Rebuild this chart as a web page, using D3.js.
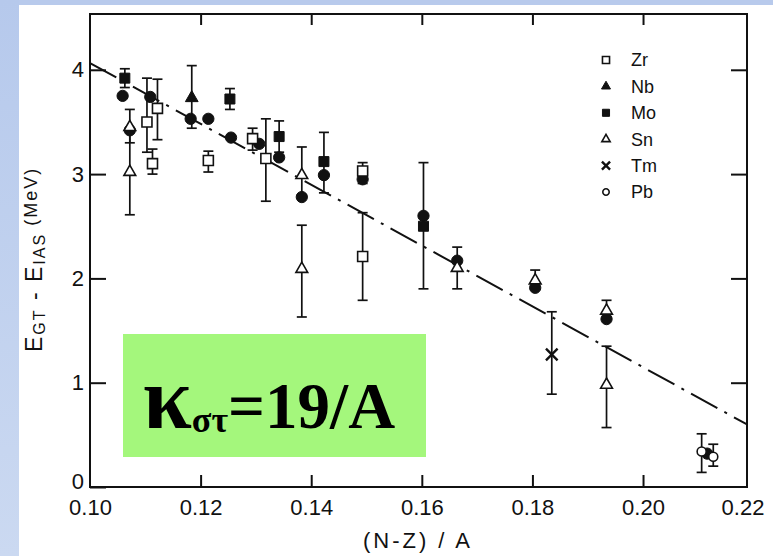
<!DOCTYPE html>
<html lang="en">
  <head>
    <meta charset="UTF-8" />
    <title>EGT - EIAS vs (N-Z)/A</title>
    <style>
      html, body { margin: 0; padding: 0; background: #fff; }
      svg { display: block; }
    </style>
  </head>
  <body>
    <svg id="chart"></svg>

    <script src="https://d3js.org/d3.v7.min.js"></script>
    <script>
      // values: [ (N-Z)/A, E, errLow, errHigh ]
      const zr = [
        [0.1103, 3.50, 3.21, 3.92],
        [0.1113, 3.10, 3.00, 3.24],
        [0.1122, 3.63, 3.33, 3.91],
        [0.1214, 3.13, 3.02, 3.22],
        [0.1294, 3.34, 3.23, 3.44],
        [0.1318, 3.15, 2.74, 3.53],
        [0.1493, 3.03, 2.91, 3.11],
        [0.1493, 2.21, 1.79, 2.63]
      ];
      const nb = [
        [0.1184, 3.73, 3.44, 4.04]
      ];
      const mo = [
        [0.1063, 3.92, 3.83, 4.01],
        [0.1253, 3.72, 3.62, 3.82],
        [0.1342, 3.36, 3.21, 3.51],
        [0.1423, 3.12, 2.82, 3.40],
        [0.1603, 2.50, 1.90, 3.11]
      ];
      const sn = [
        [0.1072, 3.45, 3.30, 3.62],
        [0.1072, 3.02, 2.61, 3.40],
        [0.1383, 2.99, 2.80, 3.26],
        [0.1383, 2.09, 1.63, 2.51],
        [0.1664, 2.10, 1.90, 2.30],
        [0.1805, 1.98, 1.90, 2.08],
        [0.1934, 1.69, 1.62, 1.79],
        [0.1934, 0.98, 0.57, 1.35]
      ];
      const tm = [
        [0.1835, 1.27, 0.89, 1.68]
      ];
      const pb = [
        [0.2106, 0.34, 0.14, 0.51],
        [0.2127, 0.29, 0.20, 0.41]
      ];
      // filled circles (no error bars, not in the legend)
      const calc = [
        [0.1059, 3.75], [0.1072, 3.42], [0.1109, 3.74], [0.1182, 3.53],
        [0.1214, 3.53], [0.1255, 3.35], [0.1306, 3.29], [0.1342, 3.16],
        [0.1383, 2.78], [0.1423, 2.99], [0.1493, 2.95], [0.1603, 2.60],
        [0.1664, 2.17], [0.1805, 1.91], [0.1934, 1.61], [0.2116, 0.32]
      ];
      // dash-dot line end points
      const fitX = [0.10, 0.2188];
      const fitY = [4.065, 0.60];

      const xTicks = [0.10, 0.12, 0.14, 0.16, 0.18, 0.20];
      const xLastLabel = "0.22";
      const yTicks = [0, 1, 2, 3, 4];
      const legendNames = ["Zr", "Nb", "Mo", "Sn", "Tm", "Pb"];
      const legendKinds = ["openSquare", "fillTriangle", "fillSquare", "openTriangle", "times", "openCircle"];

      const width = 773, height = 556;
      const plotLeft = 90, plotRight = 747, plotTop = 14, plotBottom = 487;
      const ink = "#111";

      const svg = d3.select("#chart").attr("width", width).attr("height", height);

      // slide background
      const defs = svg.append("defs");
      const grad = defs.append("linearGradient").attr("id", "strip")
        .attr("x1", 0).attr("y1", 0).attr("x2", 0).attr("y2", 1);
      grad.append("stop").attr("offset", "0%").attr("stop-color", "#b6c9ec");
      grad.append("stop").attr("offset", "100%").attr("stop-color", "#cbd9f1");

      svg.append("rect").attr("width", width).attr("height", height).attr("fill", "#fff");
      svg.append("rect").attr("width", width).attr("height", 5).attr("fill", "#b8caec");
      svg.append("rect").attr("width", 19).attr("height", height).attr("fill", "url(#strip)");

      const x = d3.scaleLinear().domain([0.10, 0.2188]).range([plotLeft, plotRight]);
      const y = d3.scaleLinear().domain([0, 4.535]).range([plotBottom, plotTop]);

      // axes (ticks point inward)
      const fontAxis = "'Liberation Sans', Arial, sans-serif";

      const gx = svg.append("g").attr("transform", `translate(0,${plotBottom})`)
        .call(d3.axisBottom(x).tickValues(xTicks).tickFormat(d3.format(".2f"))
          .tickSizeInner(-12).tickSizeOuter(0).tickPadding(12));
      svg.append("text")
        .attr("x", x.range()[1] - 4).attr("y", plotBottom + 12)
        .attr("dy", "0.71em").attr("text-anchor", "middle")
        .attr("font-family", fontAxis).attr("font-size", 22).attr("fill", ink)
        .text(xLastLabel);

      const gTop = svg.append("g").attr("transform", `translate(0,${plotTop})`)
        .call(d3.axisTop(x).tickValues(xTicks.slice(1)).tickFormat("")
          .tickSizeInner(-11).tickSizeOuter(0));

      const gy = svg.append("g").attr("transform", `translate(${plotLeft},0)`)
        .call(d3.axisLeft(y).tickValues(yTicks).tickFormat(d3.format("d"))
          .tickSizeInner(-16).tickSizeOuter(0).tickPadding(6));

      const gRight = svg.append("g").attr("transform", `translate(${plotRight},0)`)
        .call(d3.axisRight(y).tickValues(yTicks.slice(1)).tickFormat("")
          .tickSizeInner(-16).tickSizeOuter(0));

      [gx, gTop, gy, gRight].forEach(g => {
        g.select(".domain").remove();
        g.selectAll("line").attr("stroke", ink).attr("stroke-width", 2);
        g.selectAll("text").attr("font-family", fontAxis).attr("font-size", 22).attr("fill", ink);
      });
      gx.select(".tick line").remove(); // 0.10 sits on the frame
      // the "0" label sits a little above the corner in the original
      gy.selectAll(".tick text").filter(d => d === 0).attr("y", -6);

      svg.append("rect")
        .attr("x", plotLeft).attr("y", plotTop)
        .attr("width", plotRight - plotLeft).attr("height", plotBottom - plotTop)
        .attr("fill", "none").attr("stroke", ink).attr("stroke-width", 2);

      // axis titles
      svg.append("text")
        .attr("x", 418).attr("y", 548)
        .attr("text-anchor", "middle")
        .attr("font-family", fontAxis).attr("font-size", 22)
        .attr("letter-spacing", 3).attr("fill", ink)
        .text("(N-Z) / A");

      const yTitle = svg.append("text")
        .attr("transform", "translate(42,352) rotate(-90)")
        .attr("font-family", fontAxis).attr("fill", ink)
        .attr("letter-spacing", 2);
      yTitle.append("tspan").attr("font-size", 23).text("E");
      yTitle.append("tspan").attr("font-size", 16).attr("dy", 3).text("GT");
      yTitle.append("tspan").attr("font-size", 23).attr("dy", -3).text(" - E");
      yTitle.append("tspan").attr("font-size", 16).attr("dy", 3).text("IAS");
      yTitle.append("tspan").attr("font-size", 18).attr("dy", -8).text(" (MeV)");

      // dash-dot line
      svg.append("line")
        .attr("x1", x(fitX[0])).attr("y1", y(fitY[0]))
        .attr("x2", x(fitX[1])).attr("y2", y(fitY[1]))
        .attr("stroke", ink).attr("stroke-width", 2)
        .attr("stroke-dasharray", "30,8,3,8");

      // symbols
      const timesType = d3.symbolTimes || d3.symbolX || d3.symbolCross;
      const symbolDefs = {
        openSquare:   { type: d3.symbolSquare,   size: 100, fill: "#fff", stroke: ink, sw: 1.6 },
        fillSquare:   { type: d3.symbolSquare,   size: 100, fill: ink,    stroke: ink, sw: 1 },
        openTriangle: { type: d3.symbolTriangle, size: 60,  fill: "#fff", stroke: ink, sw: 1.6 },
        fillTriangle: { type: d3.symbolTriangle, size: 70,  fill: ink,    stroke: ink, sw: 1 },
        openCircle:   { type: d3.symbolCircle,   size: 64,  fill: "#fff", stroke: ink, sw: 1.6 },
        fillCircle:   { type: d3.symbolCircle,   size: 100, fill: ink,    stroke: ink, sw: 1 },
        times:        { type: timesType,         size: 90,  fill: "none", stroke: ink, sw: 2.4 }
      };

      function drawSymbol(g, kind, cx, cy, scale) {
        const s = symbolDefs[kind];
        g.append("path")
          .attr("d", d3.symbol().type(s.type).size(s.size * scale)())
          .attr("transform", `translate(${cx},${cy})`)
          .attr("fill", s.fill).attr("stroke", s.stroke)
          .attr("stroke-width", s.sw);
      }

      const series = [
        { data: zr, kind: "openSquare" },
        { data: nb, kind: "fillTriangle" },
        { data: mo, kind: "fillSquare" },
        { data: sn, kind: "openTriangle" },
        { data: tm, kind: "times" },
        { data: pb, kind: "openCircle" }
      ];

      // error bars
      const bars = svg.append("g").attr("stroke", ink).attr("stroke-width", 1.7);
      series.forEach(sr => {
        sr.data.forEach(d => {
          const px = x(d[0]);
          bars.append("line").attr("x1", px).attr("x2", px).attr("y1", y(d[2])).attr("y2", y(d[3]));
          bars.append("line").attr("x1", px - 5).attr("x2", px + 5).attr("y1", y(d[2])).attr("y2", y(d[2]));
          bars.append("line").attr("x1", px - 5).attr("x2", px + 5).attr("y1", y(d[3])).attr("y2", y(d[3]));
        });
      });

      const marks = svg.append("g");
      calc.forEach(d => drawSymbol(marks, "fillCircle", x(d[0]), y(d[1]), 1));
      series.forEach(sr => {
        sr.data.forEach(d => drawSymbol(marks, sr.kind, x(d[0]), y(d[1]), 1));
      });

      // legend
      const legend = svg.append("g");
      legendNames.forEach((name, i) => {
        const ly = 60 + i * 26.4;
        drawSymbol(legend, legendKinds[i], 606, ly, 0.5);
        legend.append("text")
          .attr("x", 631).attr("y", ly).attr("dy", "0.35em")
          .attr("font-family", fontAxis).attr("font-size", 18).attr("fill", ink)
          .text(name);
      });

      // green label box
      svg.append("rect")
        .attr("x", 123).attr("y", 334).attr("width", 303).attr("height", 123)
        .attr("fill", "#a4f77c");
      const kap = svg.append("text")
        .attr("x", 143).attr("y", 428)
        .attr("font-family", "'Liberation Serif', 'Times New Roman', serif")
        .attr("font-weight", "bold").attr("fill", "#000");
      kap.append("tspan").attr("font-size", 88).text("κ");
      kap.append("tspan").attr("font-size", 36).attr("dy", 4).text("στ");
      kap.append("tspan").attr("font-size", 65).attr("dy", -4).text("=19/A");
    </script>
  </body>
</html>
